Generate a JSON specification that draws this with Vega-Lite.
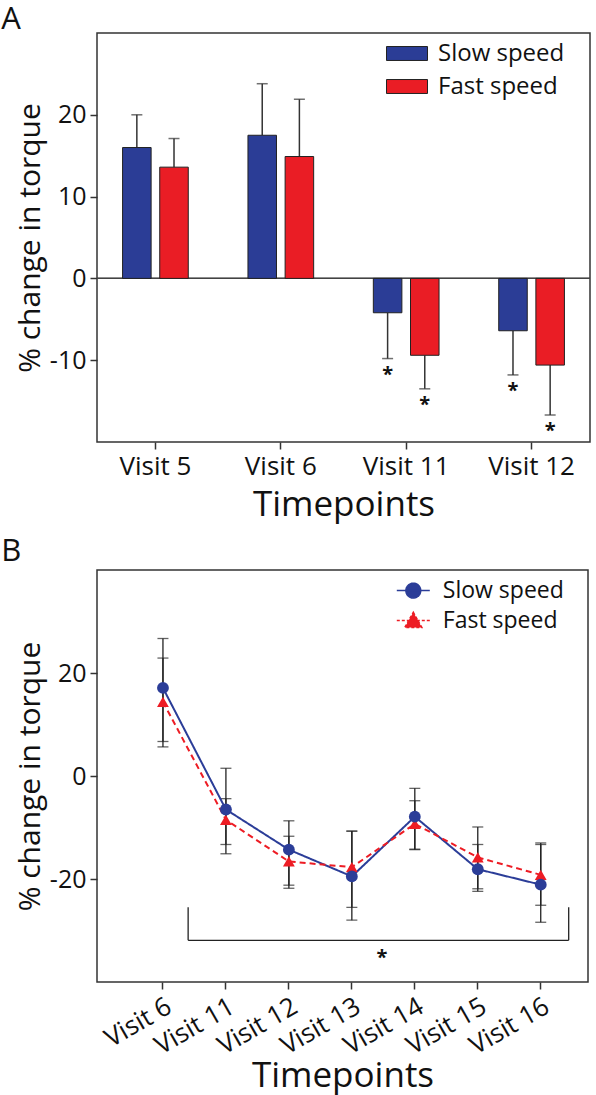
{
  "$schema": "https://vega.github.io/schema/vega-lite/v6.json",
  "padding": {"left": 0, "top": 2, "right": 2, "bottom": 0},
  "resolve": {
    "scale": {"color": "independent", "shape": "independent", "x": "independent", "y": "independent"},
    "legend": {"color": "independent", "shape": "independent"}
  },
  "config": {
    "font": "Open Sans",
    "view": {"stroke": "#333333", "strokeWidth": 1.5},
    "axis": {"grid": false, "domain": false, "tickColor": "#333333", "tickWidth": 1.5, "tickSize": 7, "labelFontSize": 25, "labelColor": "#111111", "titleFontSize": 30, "titleFontWeight": "normal", "titleColor": "#111111", "labelPadding": 4},
    "axisX": {"labelFontSize": 26, "titleFontSize": 35, "titlePadding": 8},
    "title": {"fontSize": 31, "fontWeight": "normal", "anchor": "start", "frame": "bounds", "color": "#111111"},
    "concat": {"spacing": 12}
  },
  "vconcat": [
    {
      "title": {"text": "A", "offset": -3, "dx": -14},
      "width": 493,
      "height": 409,
      "data": {"values": [
        {"visit": "Visit 5", "speed": "Slow speed", "value": 16.0, "err_end": 20.0, "sig": false},
        {"visit": "Visit 5", "speed": "Fast speed", "value": 13.6, "err_end": 17.1, "sig": false},
        {"visit": "Visit 6", "speed": "Slow speed", "value": 17.5, "err_end": 23.8, "sig": false},
        {"visit": "Visit 6", "speed": "Fast speed", "value": 14.9, "err_end": 21.9, "sig": false},
        {"visit": "Visit 11", "speed": "Slow speed", "value": -4.2, "err_end": -9.8, "sig": true},
        {"visit": "Visit 11", "speed": "Fast speed", "value": -9.4, "err_end": -13.5, "sig": true},
        {"visit": "Visit 12", "speed": "Slow speed", "value": -6.4, "err_end": -11.8, "sig": true},
        {"visit": "Visit 12", "speed": "Fast speed", "value": -10.6, "err_end": -16.7, "sig": true}
      ]},
      "layer": [
        {
          "mark": {"type": "rule", "color": "#444444", "strokeWidth": 1},
          "encoding": {
            "y": {"datum": 0, "type": "quantitative", "scale": {"domain": [-20, 30]}, "axis": {"values": [-10, 0, 10, 20], "labelExpr": "'' + datum.value", "title": "% change in torque"}}
          }
        },
        {
          "mark": {"type": "rule", "color": "#333333", "strokeWidth": 1.5},
          "encoding": {
            "x": {"field": "visit", "type": "nominal", "scale": {"domain": ["Visit 5", "Visit 6", "Visit 11", "Visit 12"], "paddingInner": 0.476, "paddingOuter": 0.204}, "axis": {"labelAngle": 0, "title": "Timepoints"}},
            "xOffset": {"field": "speed", "type": "nominal", "scale": {"domain": ["Slow speed", "Fast speed"], "paddingInner": 0.232, "paddingOuter": 0}},
            "y": {"field": "value", "type": "quantitative", "scale": {"domain": [-20, 30]}, "axis": {"values": [-10, 0, 10, 20], "labelExpr": "'' + datum.value", "title": "% change in torque"}},
            "y2": {"field": "err_end"}
          }
        },
        {
          "mark": {"type": "tick", "color": "#333333", "thickness": 1.5, "size": 11},
          "encoding": {
            "x": {"field": "visit", "type": "nominal", "scale": {"domain": ["Visit 5", "Visit 6", "Visit 11", "Visit 12"], "paddingInner": 0.476, "paddingOuter": 0.204}, "axis": {"labelAngle": 0, "title": "Timepoints"}},
            "xOffset": {"field": "speed", "type": "nominal", "scale": {"domain": ["Slow speed", "Fast speed"], "paddingInner": 0.232, "paddingOuter": 0}},
            "y": {"field": "err_end", "type": "quantitative", "scale": {"domain": [-20, 30]}, "axis": {"values": [-10, 0, 10, 20], "labelExpr": "'' + datum.value", "title": "% change in torque"}}
          }
        },
        {
          "mark": {"type": "bar", "stroke": "#222222", "strokeWidth": 1},
          "encoding": {
            "x": {"field": "visit", "type": "nominal", "scale": {"domain": ["Visit 5", "Visit 6", "Visit 11", "Visit 12"], "paddingInner": 0.476, "paddingOuter": 0.204}, "axis": {"labelAngle": 0, "title": "Timepoints"}},
            "xOffset": {"field": "speed", "type": "nominal", "scale": {"domain": ["Slow speed", "Fast speed"], "paddingInner": 0.232, "paddingOuter": 0}},
            "y": {"field": "value", "type": "quantitative", "scale": {"domain": [-20, 30]}, "axis": {"values": [-10, 0, 10, 20], "labelExpr": "'' + datum.value", "title": "% change in torque"}},
            "color": {
              "field": "speed", "type": "nominal",
              "scale": {"domain": ["Slow speed", "Fast speed"], "range": ["#2b3d96", "#ea1d25"]},
              "legend": {
                "title": null, "orient": "none", "legendX": 289, "legendY": -0.5, "padding": 0,
                "symbolType": "M-1,-0.34H1V0.34H-1Z", "symbolSize": 1681,
                "symbolStrokeColor": "#222222", "symbolStrokeWidth": 1,
                "labelFontSize": 24, "labelColor": "#111111", "labelOffset": 10, "rowPadding": -2.5
              }
            }
          }
        },
        {
          "transform": [{"filter": "datum.sig"}],
          "mark": {"type": "text", "text": "*", "fontSize": 20, "fontWeight": "bold", "dy": 16, "color": "#111111"},
          "encoding": {
            "x": {"field": "visit", "type": "nominal", "scale": {"domain": ["Visit 5", "Visit 6", "Visit 11", "Visit 12"], "paddingInner": 0.476, "paddingOuter": 0.204}, "axis": {"labelAngle": 0, "title": "Timepoints"}},
            "xOffset": {"field": "speed", "type": "nominal", "scale": {"domain": ["Slow speed", "Fast speed"], "paddingInner": 0.232, "paddingOuter": 0}},
            "y": {"field": "err_end", "type": "quantitative", "scale": {"domain": [-20, 30]}, "axis": {"values": [-10, 0, 10, 20], "labelExpr": "'' + datum.value", "title": "% change in torque"}}
          }
        }
      ]
    },
    {
      "title": {"text": "B", "offset": 2, "dx": -14},
      "width": 491,
      "height": 412,
      "resolve": {"scale": {"shape": "independent", "strokeDash": "independent", "stroke": "independent", "color": "independent", "fill": "independent"}},
      "data": {"values": [
        {"visit": "Visit 6", "speed": "Slow speed", "mean": 17.1, "lo": 6.7, "hi": 26.7},
        {"visit": "Visit 6", "speed": "Fast speed", "mean": 14.4, "lo": 5.65, "hi": 22.9},
        {"visit": "Visit 11", "speed": "Slow speed", "mean": -6.5, "lo": -15.1, "hi": 1.5},
        {"visit": "Visit 11", "speed": "Fast speed", "mean": -8.5, "lo": -13.3, "hi": -4.4},
        {"visit": "Visit 12", "speed": "Slow speed", "mean": -14.3, "lo": -21.2, "hi": -8.7},
        {"visit": "Visit 12", "speed": "Fast speed", "mean": -16.6, "lo": -21.8, "hi": -11.7},
        {"visit": "Visit 13", "speed": "Slow speed", "mean": -19.5, "lo": -28.0, "hi": -10.7},
        {"visit": "Visit 13", "speed": "Fast speed", "mean": -17.7, "lo": -25.5, "hi": -10.7},
        {"visit": "Visit 14", "speed": "Slow speed", "mean": -7.9, "lo": -14.2, "hi": -2.4},
        {"visit": "Visit 14", "speed": "Fast speed", "mean": -9.3, "lo": -14.3, "hi": -4.8},
        {"visit": "Visit 15", "speed": "Slow speed", "mean": -18.1, "lo": -22.4, "hi": -13.3},
        {"visit": "Visit 15", "speed": "Fast speed", "mean": -15.8, "lo": -21.9, "hi": -9.9},
        {"visit": "Visit 16", "speed": "Slow speed", "mean": -21.1, "lo": -28.4, "hi": -13.3},
        {"visit": "Visit 16", "speed": "Fast speed", "mean": -19.2, "lo": -25.1, "hi": -13.0}
      ]},
      "layer": [
        {
          "mark": {"type": "rule", "color": "#222222", "strokeWidth": 1.3},
          "encoding": {
            "x": {"field": "visit", "type": "nominal", "scale": {"domain": ["Visit 6", "Visit 11", "Visit 12", "Visit 13", "Visit 14", "Visit 15", "Visit 16"], "paddingInner": 0, "paddingOuter": 0.399, "align": 0.686}, "axis": {"labelAngle": -30, "title": "Timepoints", "titlePadding": 0}},
            "y": {"field": "lo", "type": "quantitative", "scale": {"domain": [-40, 40]}, "axis": {"values": [-20, 0, 20], "labelExpr": "'' + datum.value", "title": "% change in torque"}},
            "y2": {"field": "hi"}
          }
        },
        {
          "mark": {"type": "tick", "color": "#222222", "thickness": 1.3, "size": 11},
          "encoding": {
            "x": {"field": "visit", "type": "nominal", "scale": {"domain": ["Visit 6", "Visit 11", "Visit 12", "Visit 13", "Visit 14", "Visit 15", "Visit 16"], "paddingInner": 0, "paddingOuter": 0.399, "align": 0.686}, "axis": {"labelAngle": -30, "title": "Timepoints", "titlePadding": 0}},
            "y": {"field": "lo", "type": "quantitative", "scale": {"domain": [-40, 40]}, "axis": {"values": [-20, 0, 20], "labelExpr": "'' + datum.value", "title": "% change in torque"}}
          }
        },
        {
          "mark": {"type": "tick", "color": "#222222", "thickness": 1.3, "size": 11},
          "encoding": {
            "x": {"field": "visit", "type": "nominal", "scale": {"domain": ["Visit 6", "Visit 11", "Visit 12", "Visit 13", "Visit 14", "Visit 15", "Visit 16"], "paddingInner": 0, "paddingOuter": 0.399, "align": 0.686}, "axis": {"labelAngle": -30, "title": "Timepoints", "titlePadding": 0}},
            "y": {"field": "hi", "type": "quantitative", "scale": {"domain": [-40, 40]}, "axis": {"values": [-20, 0, 20], "labelExpr": "'' + datum.value", "title": "% change in torque"}}
          }
        },
        {
          "mark": {"type": "line", "strokeWidth": 2},
          "encoding": {
            "x": {"field": "visit", "type": "nominal", "scale": {"domain": ["Visit 6", "Visit 11", "Visit 12", "Visit 13", "Visit 14", "Visit 15", "Visit 16"], "paddingInner": 0, "paddingOuter": 0.399, "align": 0.686}, "axis": {"labelAngle": -30, "title": "Timepoints", "titlePadding": 0}},
            "y": {"field": "mean", "type": "quantitative", "scale": {"domain": [-40, 40]}, "axis": {"values": [-20, 0, 20], "labelExpr": "'' + datum.value", "title": "% change in torque"}},
            "stroke": {"field": "speed", "type": "nominal", "scale": {"domain": ["Slow speed", "Fast speed"], "range": ["#2b3d98", "#ed1c24"]}, "legend": null},
            "strokeDash": {"field": "speed", "type": "nominal", "scale": {"domain": ["Slow speed", "Fast speed"], "range": [[1, 0], [6, 4]]}, "legend": null},
            "order": {"field": "speed", "sort": "ascending"}
          }
        },
        {
          "mark": {"type": "point", "filled": true, "size": 140, "opacity": 1},
          "encoding": {
            "x": {"field": "visit", "type": "nominal", "scale": {"domain": ["Visit 6", "Visit 11", "Visit 12", "Visit 13", "Visit 14", "Visit 15", "Visit 16"], "paddingInner": 0, "paddingOuter": 0.399, "align": 0.686}, "axis": {"labelAngle": -30, "title": "Timepoints", "titlePadding": 0}},
            "y": {"field": "mean", "type": "quantitative", "scale": {"domain": [-40, 40]}, "axis": {"values": [-20, 0, 20], "labelExpr": "'' + datum.value", "title": "% change in torque"}},
            "color": {"field": "speed", "type": "nominal", "scale": {"domain": ["Slow speed", "Fast speed"], "range": ["#2b3d98", "#ed1c24"]}, "legend": null},
            "shape": {"field": "speed", "type": "nominal", "scale": {"domain": ["Slow speed", "Fast speed"], "range": ["circle", "triangle-up"]}, "legend": null},
            "order": {"field": "speed", "sort": "ascending"}
          }
        },
        {
          "transform": [{"filter": "false"}],
          "mark": {"type": "point", "filled": true, "strokeWidth": 1.5, "opacity": 1},
          "encoding": {
            "x": {"field": "visit", "type": "nominal", "scale": {"domain": ["Visit 6", "Visit 11", "Visit 12", "Visit 13", "Visit 14", "Visit 15", "Visit 16"], "paddingInner": 0, "paddingOuter": 0.399, "align": 0.686}, "axis": {"labelAngle": -30, "title": "Timepoints", "titlePadding": 0}},
            "y": {"field": "mean", "type": "quantitative", "scale": {"domain": [-40, 40]}, "axis": {"values": [-20, 0, 20], "labelExpr": "'' + datum.value", "title": "% change in torque"}},
            "fill": {
              "field": "speed", "type": "nominal",
              "scale": {"domain": ["Slow speed", "Fast speed"], "range": ["#2b3d98", "#ed1c24"]},
              "legend": {"title": null, "orient": "none", "legendX": 298.8, "legendY": 3.1, "padding": 0, "symbolSize": 1089, "symbolStrokeWidth": 1.5, "symbolOpacity": 1, "labelFontSize": 23, "labelColor": "#111111", "labelOffset": 12, "rowPadding": 0}
            },
            "stroke": {
              "field": "speed", "type": "nominal",
              "scale": {"domain": ["Slow speed", "Fast speed"], "range": ["#2b3d98", "#ed1c24"]},
              "legend": {"title": null, "orient": "none", "legendX": 298.8, "legendY": 3.1, "padding": 0, "symbolSize": 1089, "symbolStrokeWidth": 1.5, "symbolOpacity": 1, "labelFontSize": 23, "labelColor": "#111111", "labelOffset": 12, "rowPadding": 0}
            },
            "shape": {
              "field": "speed", "type": "nominal",
              "scale": {"domain": ["Slow speed", "Fast speed"], "range": ["M-1,0H1M-0.45,0A0.45,0.45,0,1,1,0.45,0A0.45,0.45,0,1,1,-0.45,0Z", "M-1,0H1M0,-0.5L0.52,0.42H-0.52Z"]},
              "legend": {"title": null, "orient": "none", "legendX": 298.8, "legendY": 3.1, "padding": 0, "symbolSize": 1089, "symbolStrokeWidth": 1.5, "symbolOpacity": 1, "labelFontSize": 23, "labelColor": "#111111", "labelOffset": 12, "rowPadding": 0}
            },
            "strokeDash": {
              "field": "speed", "type": "nominal",
              "scale": {"domain": ["Slow speed", "Fast speed"], "range": [[1, 0], [3, 2]]},
              "legend": {"title": null, "orient": "none", "legendX": 298.8, "legendY": 3.1, "padding": 0, "symbolSize": 1089, "symbolStrokeWidth": 1.5, "symbolOpacity": 1, "labelFontSize": 23, "labelColor": "#111111", "labelOffset": 12, "rowPadding": 0}
            }
          }
        },
        {
          "data": {"values": [{"from": "Visit 6", "to": "Visit 16", "level": -31.9, "top": -25.5}]},
          "mark": {"type": "rule", "color": "#222222", "strokeWidth": 1.3},
          "encoding": {
            "x": {"field": "from", "type": "nominal", "bandPosition": 0.9, "scale": {"domain": ["Visit 6", "Visit 11", "Visit 12", "Visit 13", "Visit 14", "Visit 15", "Visit 16"], "paddingInner": 0, "paddingOuter": 0.399, "align": 0.686}, "axis": {"labelAngle": -30, "title": "Timepoints", "titlePadding": 0}},
            "x2": {"field": "to", "bandPosition": 0.944},
            "y": {"field": "level", "type": "quantitative", "scale": {"domain": [-40, 40]}, "axis": {"values": [-20, 0, 20], "labelExpr": "'' + datum.value", "title": "% change in torque"}}
          }
        },
        {
          "data": {"values": [{"from": "Visit 6", "to": "Visit 16", "level": -31.9, "top": -25.5}]},
          "mark": {"type": "rule", "color": "#222222", "strokeWidth": 1.3},
          "encoding": {
            "x": {"field": "from", "type": "nominal", "bandPosition": 0.9, "scale": {"domain": ["Visit 6", "Visit 11", "Visit 12", "Visit 13", "Visit 14", "Visit 15", "Visit 16"], "paddingInner": 0, "paddingOuter": 0.399, "align": 0.686}, "axis": {"labelAngle": -30, "title": "Timepoints", "titlePadding": 0}},
            "y": {"field": "level", "type": "quantitative", "scale": {"domain": [-40, 40]}, "axis": {"values": [-20, 0, 20], "labelExpr": "'' + datum.value", "title": "% change in torque"}},
            "y2": {"field": "top"}
          }
        },
        {
          "data": {"values": [{"from": "Visit 6", "to": "Visit 16", "level": -31.9, "top": -25.5}]},
          "mark": {"type": "rule", "color": "#222222", "strokeWidth": 1.3},
          "encoding": {
            "x": {"field": "to", "type": "nominal", "bandPosition": 0.944, "scale": {"domain": ["Visit 6", "Visit 11", "Visit 12", "Visit 13", "Visit 14", "Visit 15", "Visit 16"], "paddingInner": 0, "paddingOuter": 0.399, "align": 0.686}, "axis": {"labelAngle": -30, "title": "Timepoints", "titlePadding": 0}},
            "y": {"field": "level", "type": "quantitative", "scale": {"domain": [-40, 40]}, "axis": {"values": [-20, 0, 20], "labelExpr": "'' + datum.value", "title": "% change in torque"}},
            "y2": {"field": "top"}
          }
        },
        {
          "data": {"values": [{"at": "Visit 13", "level": -34.8, "label": "*"}]},
          "mark": {"type": "text", "fontSize": 20, "fontWeight": "bold", "dy": 3, "color": "#111111"},
          "encoding": {
            "x": {"field": "at", "type": "nominal", "bandPosition": 0.98, "scale": {"domain": ["Visit 6", "Visit 11", "Visit 12", "Visit 13", "Visit 14", "Visit 15", "Visit 16"], "paddingInner": 0, "paddingOuter": 0.399, "align": 0.686}, "axis": {"labelAngle": -30, "title": "Timepoints", "titlePadding": 0}},
            "y": {"field": "level", "type": "quantitative", "scale": {"domain": [-40, 40]}, "axis": {"values": [-20, 0, 20], "labelExpr": "'' + datum.value", "title": "% change in torque"}},
            "text": {"field": "label"}
          }
        }
      ]
    }
  ]
}
